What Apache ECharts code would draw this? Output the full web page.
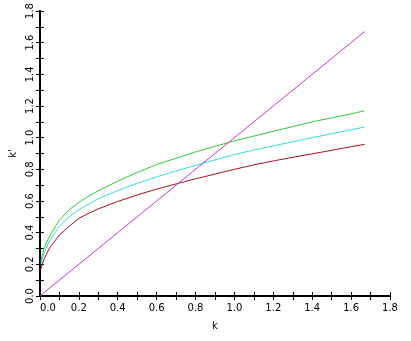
<!DOCTYPE html>
<html><head><meta charset="utf-8">
<script src="https://cdn.jsdelivr.net/npm/echarts@6/dist/echarts.min.js"></script>
<style>html,body{margin:0;padding:0;background:#fff}#c{width:411px;height:341px}</style>
</head><body><div id="c"></div>
<script>
const kValues = [0.005, 0.02, 0.05, 0.1, 0.15, 0.2, 0.25, 0.3, 0.4, 0.5, 0.6, 0.7, 0.8, 0.9, 1.0, 1.1, 1.2, 1.3, 1.4, 1.5, 1.6, 1.67];
const greenValues = [0.22, 0.30, 0.38, 0.48, 0.545, 0.59, 0.63, 0.665, 0.725, 0.78, 0.83, 0.87, 0.91, 0.945, 0.98, 1.01, 1.04, 1.07, 1.10, 1.125, 1.15, 1.17];
const cyanValues = [0.20, 0.27, 0.35, 0.44, 0.50, 0.545, 0.58, 0.615, 0.665, 0.712, 0.752, 0.79, 0.825, 0.86, 0.893, 0.922, 0.948, 0.974, 1.0, 1.025, 1.05, 1.067];
const redValues = [0.17, 0.23, 0.305, 0.385, 0.44, 0.49, 0.522, 0.55, 0.597, 0.638, 0.675, 0.708, 0.74, 0.77, 0.80, 0.828, 0.853, 0.876, 0.898, 0.92, 0.943, 0.958];
const lineK = [0, 1.67];
const lineValues = [0, 1.67];

const pair = (xs, ys) => xs.map((x, i) => [x, ys[i]]);
const font = 'DejaVu Sans';
const axisCommon = {
  type: 'value', min: 0, max: 1.8, interval: 0.2,
  axisLine: {show: true, lineStyle: {color: '#000', width: 2}},
  axisTick: {show: true, inside: true, length: 4, lineStyle: {color: '#000'}},
  minorTick: {show: true, splitNumber: 2, length: 4, lineStyle: {color: '#000'}},
  splitLine: {show: false}
};
const chart = echarts.init(document.getElementById('c'));
chart.setOption({
  animation: false,
  backgroundColor: '#fff',
  grid: {left: 39, right: 21, top: 11, bottom: 45},
  xAxis: [
    Object.assign({}, axisCommon, {
      position: 'bottom', name: 'k', nameLocation: 'middle', nameGap: 25,
      nameTextStyle: {color: '#000', fontFamily: font, fontSize: 10},
      axisLabel: {color: '#000', fontFamily: font, fontSize: 10, margin: 7, alignMinLabel: 'left',
        formatter: v => v.toFixed(1)}
    }),
    Object.assign({}, axisCommon, {position: 'top', axisLabel: {show: false}})
  ],
  yAxis: [
    Object.assign({}, axisCommon, {
      position: 'left', name: "k'", nameLocation: 'middle', nameGap: 20, nameRotate: 90,
      nameTextStyle: {color: '#000', fontFamily: font, fontSize: 10},
      axisLabel: {color: '#000', fontFamily: font, fontSize: 10, rotate: 90, margin: 4,
        formatter: v => v.toFixed(1)}
    }),
    Object.assign({}, axisCommon, {position: 'right', axisLabel: {show: false}})
  ],
  series: [
    {type: 'line', data: pair(kValues, greenValues), showSymbol: false, lineStyle: {color: '#33cc33', width: 1}},
    {type: 'line', data: pair(kValues, cyanValues), showSymbol: false, lineStyle: {color: '#33dddd', width: 1}},
    {type: 'line', data: pair(kValues, redValues), showSymbol: false, lineStyle: {color: '#aa1122', width: 1}},
    {type: 'line', data: pair(lineK, lineValues), showSymbol: false, lineStyle: {color: '#cc33cc', width: 1}}
  ]
});
</script></body></html>
